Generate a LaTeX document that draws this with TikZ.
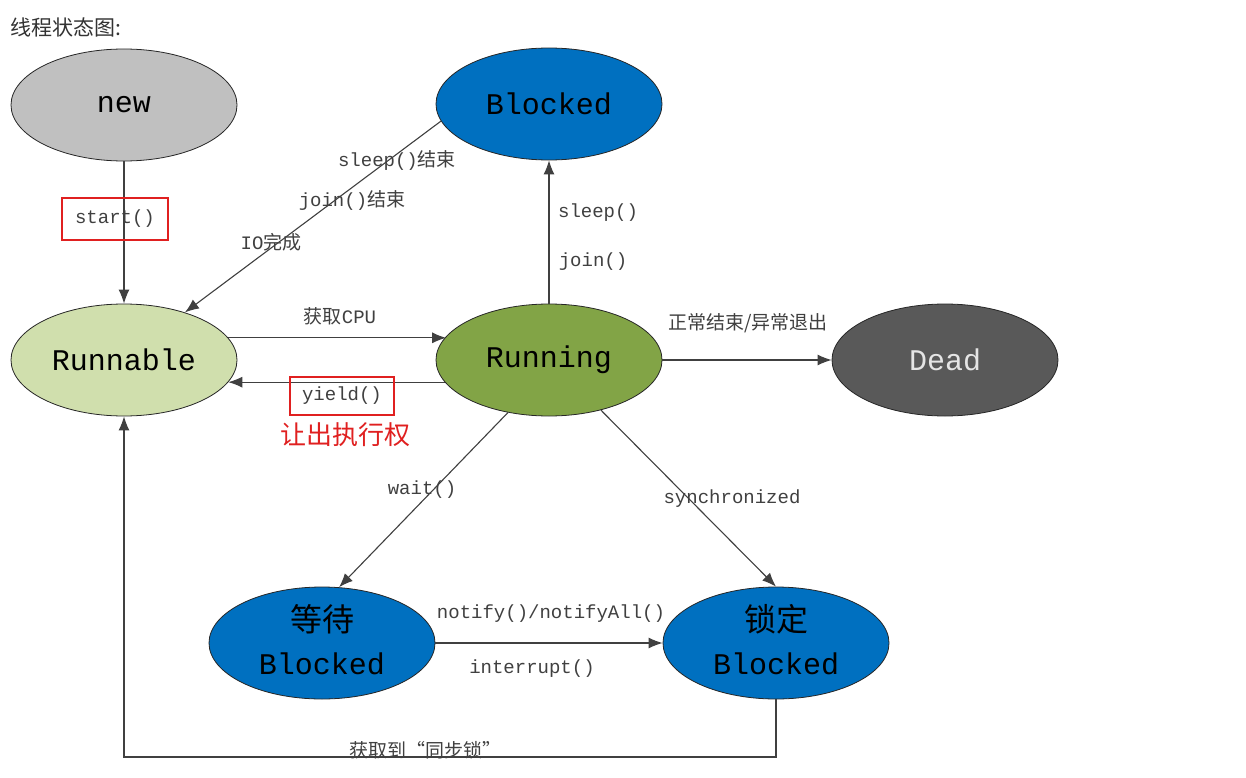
\documentclass[tikz,border=0pt]{standalone}
\usepackage{fontspec}
\setmainfont{Liberation Serif}
\newfontfamily\cjk{Noto Sans CJK SC}
\newfontfamily\mono{Liberation Mono}
\usetikzlibrary{shapes.geometric,arrows.meta}
\definecolor{newgray}{HTML}{C0C0C0}
\definecolor{blk}{HTML}{0070C0}
\definecolor{runnablegreen}{HTML}{D0DFAD}
\definecolor{runninggreen}{HTML}{82A446}
\definecolor{deadgray}{HTML}{595959}
\definecolor{linegray}{HTML}{404040}
\definecolor{labelgray}{HTML}{404040}
\definecolor{redmark}{HTML}{E02020}
\begin{document}
\begin{tikzpicture}[x=1pt,y=-1pt,
  st/.style={ellipse,draw=black!85,line width=0.8pt,minimum width=226pt,minimum height=112pt,
    inner sep=0pt,font=\fontsize{30}{42}\selectfont\mono,align=center},
  conn/.style={draw=linegray,line width=1.1pt,-{Latex[length=14pt,width=11pt]}},
  lbl/.style={text=labelgray,font=\fontsize{19}{22}\selectfont\mono,inner sep=0pt},
  redbox/.style={draw=redmark,line width=1.2pt,minimum width=106pt,minimum height=42pt}]
\fill[white] (0,0) rectangle (1246,778);
\useasboundingbox (0,0) rectangle (1246,778);

% title
\node[anchor=west,text=black!80,font=\fontsize{21}{23}\selectfont\cjk,inner sep=0pt] (title) at (10,27) {线程状态图:};

% states
\node[st,fill=newgray] (new) at (124,105) {new};
\node[st,fill=blk] (blocked) at (549,104) {Blocked};
\node[st,fill=runnablegreen] (runnable) at (124,360) {Runnable};
\node[st,fill=runninggreen] (running) at (549,360) {Running};
\node[st,fill=deadgray,text=white!90!black] (dead) at (945,360) {Dead};
\node[st,fill=blk] (wait) at (322,643) {};
\node[st,fill=blk] (lock) at (776,643) {};
\node[font=\fontsize{32}{36}\selectfont\cjk,inner sep=0pt] (waitcn) at (322,619) {等待};
\node[font=\fontsize{30}{36}\selectfont\mono,inner sep=0pt] (waiten) at (322,664) {Blocked};
\node[font=\fontsize{32}{36}\selectfont\cjk,inner sep=0pt] (lockcn) at (776,619) {锁定};
\node[font=\fontsize{30}{36}\selectfont\mono,inner sep=0pt] (locken) at (776,664) {Blocked};

% connectors
\coordinate (low) at (0,757);
\draw[conn] (new) -- (runnable);
\draw[conn] (blocked.189) -- (runnable.38);
\draw[conn] (runnable.12.5) -- (running.167.5 |- runnable.12.5);
\draw[conn] (running.192.5) -- (runnable.-12.5 |- running.192.5);
\draw[conn] (running.north) -- (blocked.south);
\draw[conn] (running.east) -- (dead.west);
\draw[conn] (running.232) -- (wait.73);
\draw[conn] (running.316.7) -- (lock.north);
\draw[conn] (wait.east) -- (lock.west);
\draw[conn] (lock.south) -- (lock.south |- low) -| (runnable.south);

% labels
\node[lbl,redbox] (startlbl) at (115,219) {start()};
\node[lbl] (cpu) at (340,316) {{\cjk 获取}CPU};
\node[lbl,redbox,minimum width=104pt,minimum height=38pt] (yieldlbl) at (342,396) {yield()};
\node[text=redmark,font=\fontsize{26}{30}\selectfont\cjk,inner sep=0pt] (yieldnote) at (345,435) {让出执行权};
\node[lbl] (sleepend) at (397,160) {sleep(){\cjk 结束}};
\node[lbl] (joinend) at (352,200) {join(){\cjk 结束}};
\node[lbl] (io) at (271,242) {IO{\cjk 完成}};
\node[lbl] (sleep) at (598,213) {sleep()};
\node[lbl] (join) at (593,262) {join()};
\node[lbl,font=\fontsize{19}{22}\selectfont\cjk] (deadlbl) at (748,323) {正常结束/异常退出};
\node[lbl] (waitlbl) at (422,490) {wait()};
\node[lbl] (synclbl) at (732,499) {synchronized};
\node[lbl] (notify) at (551,614) {notify()/notifyAll()};
\node[lbl] (interrupt) at (532,669) {interrupt()};
\node[lbl,font=\fontsize{19}{22}\selectfont\cjk] (getlock) at (425,750) {获取到“同步锁”};
\end{tikzpicture}
\end{document}
